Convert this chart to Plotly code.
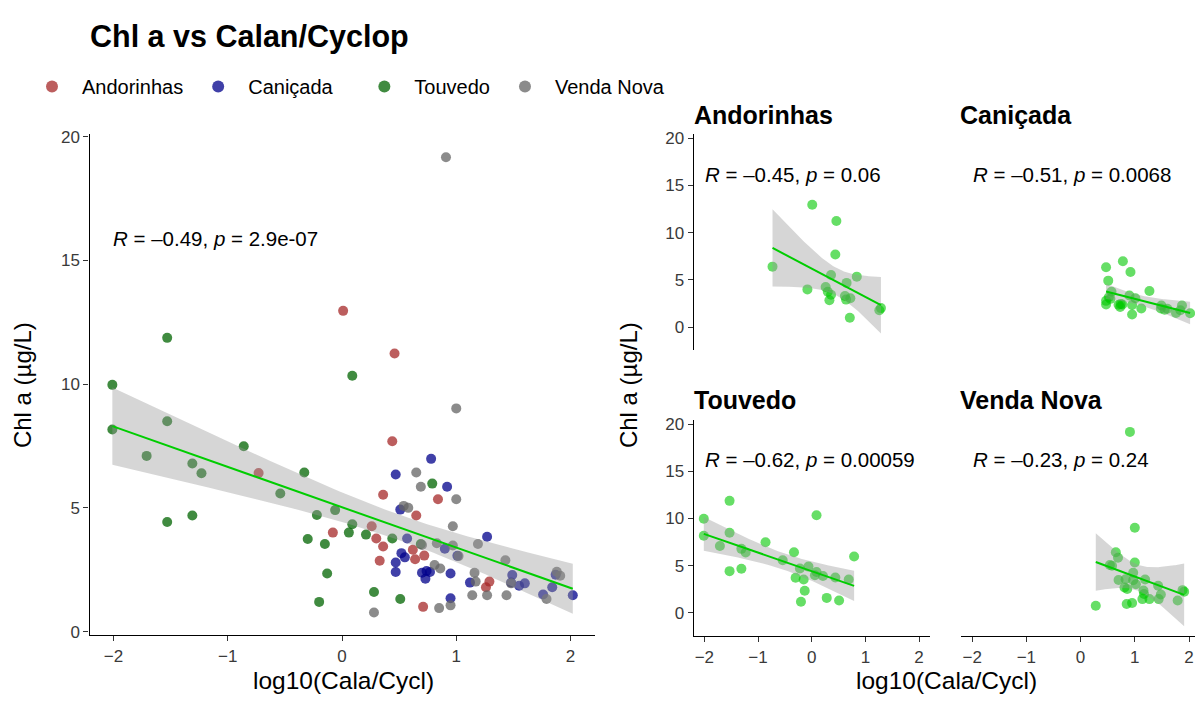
import numpy as np
import plotly.graph_objects as go

# ---------------- data: log10(Calanoid/Cyclopoid) vs Chl a ----------------
sites = ["Andorinhas", "Caniçada", "Touvedo", "Venda Nova"]

andorinhas_x = [-0.73, -0.08, 0.01, 0.26, 0.30, 0.33, 0.36, 0.36, 0.44, 0.46,
                0.62, 0.64, 0.65, 0.71, 0.72, 0.84, 1.26, 1.29]
andorinhas_y = [6.41, 4.00, 12.96, 4.26, 3.76, 2.86, 5.53, 3.44, 7.69, 11.24,
                3.31, 2.92, 4.69, 1.00, 3.07, 5.35, 1.79, 2.02]

canicada_x = [0.47, 0.78, 0.92, 0.51, 1.27, 0.57, 0.90, 1.01, 0.52, 0.47,
              0.47, 0.70, 0.77, 0.73, 0.95, 1.12, 0.95, 1.49, 1.48, 1.55,
              1.84, 1.76, 2.02, 0.55, 0.74, 1.87, 1.60]
canicada_y = [6.35, 6.98, 5.85, 4.93, 3.83, 3.76, 3.35, 3.06, 3.17, 2.79,
              2.41, 2.38, 2.41, 2.14, 2.35, 1.98, 1.35, 2.29, 1.98, 1.85,
              1.79, 1.50, 1.47, 3.00, 2.45, 2.30, 1.95]

touvedo_x = [-2.01, -2.01, -1.53, -1.53, -1.53, -1.71, -1.31, -1.23, -1.31, -0.86,
             -0.54, -0.33, 0.09, -0.22, -0.30, -0.15, -0.06, -0.13, -0.20, 0.06,
             0.21, 0.09, 0.28, 0.44, 0.51, 0.69, 0.79]
touvedo_y = [9.97, 8.17, 11.87, 8.50, 4.43, 7.10, 6.79, 6.40, 4.69, 7.49,
             5.58, 6.43, 10.34, 4.71, 3.74, 3.54, 4.91, 2.35, 1.20, 4.00,
             3.92, 4.34, 1.60, 3.76, 1.32, 3.54, 5.98]

vendanova_x = [0.91, 1.00, 0.65, 0.69, 1.00, 0.54, 0.58, 0.97, 1.19, 0.83,
               0.97, 0.81, 0.86, 1.16, 1.17, 1.14, 1.27, 1.44, 1.43, 1.88,
               1.91, 1.79, 0.95, 0.85, 0.28, 1.02, 1.48, 0.70]
vendanova_y = [19.17, 9.02, 6.43, 5.85, 5.35, 5.08, 5.00, 4.26, 3.54, 3.57,
               3.48, 2.69, 2.55, 2.38, 2.02, 1.47, 1.47, 1.47, 2.88, 2.42,
               2.26, 1.32, 1.06, 0.95, 0.77, 3.05, 1.95, 3.50]

site_x = [andorinhas_x, canicada_x, touvedo_x, vendanova_x]
site_y = [andorinhas_y, canicada_y, touvedo_y, vendanova_y]

all_label = "<i>R</i> = –0.49, <i>p</i> = 2.9e-07"
site_labels = ["<i>R</i> = –0.45, <i>p</i> = 0.06",
               "<i>R</i> = –0.51, <i>p</i> = 0.0068",
               "<i>R</i> = –0.62, <i>p</i> = 0.00059",
               "<i>R</i> = –0.23, <i>p</i> = 0.24"]

x_ticks = [-2, -1, 0, 1, 2]
y_ticks = [0, 5, 10, 15, 20]

# ---------------- styling ----------------
W, H = 1195, 727
FONT = "Liberation Sans, Arial, sans-serif"
site_colors = ["rgba(165,40,40,0.75)", "rgba(0,0,139,0.75)",
               "rgba(0,100,0,0.75)", "rgba(100,100,100,0.75)"]
facet_point = "rgba(0,200,0,0.6)"
fit_line = "#00cd00"
band_fill = "rgba(153,153,153,0.4)"
# legend entries: a little extra room after the second key
legend_pad = ["", "\u00a0\u00a0\u00a0", "", ""]


def fx(p):
    return p / W


def fy(p):
    return 1 - p / H


def t_975(df):
    """Student t 97.5% quantile (Cornish-Fisher expansion)."""
    z = 1.959963985
    g1 = (z**3 + z) / 4
    g2 = (5 * z**5 + 16 * z**3 + 3 * z) / 96
    g3 = (3 * z**7 + 19 * z**5 + 17 * z**3 - 15 * z) / 384
    g4 = (79 * z**9 + 776 * z**7 + 1482 * z**5 - 1920 * z**3 - 945 * z) / 92160
    return z + g1 / df + g2 / df**2 + g3 / df**3 + g4 / df**4


def lm_band(x, y, n=80):
    x = np.asarray(x, float)
    y = np.asarray(y, float)
    slope, icpt = np.polyfit(x, y, 1)
    xs = np.linspace(x.min(), x.max(), n)
    fit = icpt + slope * xs
    dof = len(x) - 2
    s = np.sqrt(np.sum((y - (icpt + slope * x)) ** 2) / dof)
    se = s * np.sqrt(1 / len(x) + (xs - x.mean()) ** 2 / np.sum((x - x.mean()) ** 2))
    half = t_975(dof) * se
    return xs, fit, fit - half, fit + half


def add_smooth(fig, x, y, xa, ya):
    xs, fit, lo, hi = lm_band(x, y)
    fig.add_trace(go.Scatter(
        x=np.concatenate([xs, xs[::-1]]), y=np.concatenate([hi, lo[::-1]]),
        fill="toself", fillcolor=band_fill, line=dict(width=0), mode="lines",
        hoverinfo="skip", showlegend=False, xaxis=xa, yaxis=ya))
    fig.add_trace(go.Scatter(
        x=xs, y=fit, mode="lines", line=dict(color=fit_line, width=2),
        hoverinfo="skip", showlegend=False, xaxis=xa, yaxis=ya))


fig = go.Figure()

# ---- pooled panel ----
for name, pad, xv, yv, col in zip(sites, legend_pad, site_x, site_y, site_colors):
    fig.add_trace(go.Scatter(
        x=xv, y=yv, mode="markers", name=name + pad,
        marker=dict(color=col, size=10, line=dict(width=0)),
        xaxis="x", yaxis="y"))
add_smooth(fig, sum(site_x, []), sum(site_y, []), "x", "y")

# ---- faceted panels ----
for i, (xv, yv) in enumerate(zip(site_x, site_y)):
    xa, ya = f"x{i + 2}", f"y{i + 2}"
    fig.add_trace(go.Scatter(
        x=xv, y=yv, mode="markers", showlegend=False,
        marker=dict(color=facet_point, size=10, line=dict(width=0)),
        xaxis=xa, yaxis=ya))
    add_smooth(fig, xv, yv, xa, ya)

axis_common = dict(showgrid=False, zeroline=False, showline=True, linecolor="black",
                   linewidth=1.2, ticks="outside", ticklen=5, tickcolor="#333333",
                   tickwidth=1.1, tickfont=dict(family=FONT, size=17, color="#3a3a3a"))

# pixel geometry of the panels
left_x0, left_x1 = 89.5, 594.5
left_y0, left_y1 = 129.5, 639.5
colL = (693.6, 929.8)
colR = (961.3, 1195.0)
rowT = (129.8, 349.6)
rowB = (420.8, 640.6)
facet_yrange = [-2.45, 20.4]

layout_axes = dict(
    xaxis=dict(domain=[fx(left_x0), fx(left_x1)], range=[-2.21, 2.21],
               tickvals=x_ticks, anchor="y", **axis_common),
    yaxis=dict(domain=[fy(left_y1), fy(left_y0)], range=[-0.14, 20.1],
               tickvals=y_ticks, anchor="x", **axis_common),
    # Andorinhas (top-left)
    xaxis2=dict(domain=[fx(colL[0]), fx(colL[1])], range=[-2.2, 2.2],
                anchor="y2", visible=False),
    yaxis2=dict(domain=[fy(rowT[1]), fy(rowT[0])], range=facet_yrange,
                tickvals=y_ticks, anchor="x2", **axis_common),
    # Caniçada (top-right)
    xaxis3=dict(domain=[fx(colR[0]), fx(colR[1])], range=[-2.2, 2.11],
                anchor="y3", visible=False),
    yaxis3=dict(domain=[fy(rowT[1]), fy(rowT[0])], range=facet_yrange,
                anchor="x3", visible=False),
    # Touvedo (bottom-left)
    xaxis4=dict(domain=[fx(colL[0]), fx(colL[1])], range=[-2.2, 2.2],
                tickvals=x_ticks, anchor="y4", **axis_common),
    yaxis4=dict(domain=[fy(rowB[1]), fy(rowB[0])], range=facet_yrange,
                tickvals=y_ticks, anchor="x4", **axis_common),
    # Venda Nova (bottom-right)
    xaxis5=dict(domain=[fx(colR[0]), fx(colR[1])], range=[-2.2, 2.11],
                tickvals=x_ticks, anchor="y5", **axis_common),
    yaxis5=dict(domain=[fy(rowB[1]), fy(rowB[0])], range=facet_yrange,
                anchor="x5", visible=False),
)

annotations = []


def paper_text(text, x, y, size, bold=False, xanchor="center", angle=0):
    annotations.append(dict(
        text=f"<b>{text}</b>" if bold else text, x=fx(x), y=fy(y),
        xref="paper", yref="paper", xanchor=xanchor, yanchor="middle",
        showarrow=False, textangle=angle,
        font=dict(family=FONT, size=size, color="black")))


paper_text("Chl a vs Calan/Cyclop", 88, 30, 30.5, bold=True, xanchor="left")
paper_text("Chl a (µg/L)", 22, 385, 24, angle=-90)
paper_text("Chl a (µg/L)", 628, 385, 24, angle=-90)
paper_text("log10(Cala/Cycl)", 343, 686, 24.5)
paper_text("log10(Cala/Cycl)", 946, 686, 24.5)
for name, (x, y) in zip(sites, [(692, 110), (958, 110), (692, 400), (958, 400)]):
    paper_text(name, x, y, 25, bold=True, xanchor="left")

# correlation labels in data coordinates
annotations.append(dict(text=all_label, x=-2.02, y=15.9, xref="x", yref="y",
                        xanchor="left", yanchor="middle", showarrow=False,
                        font=dict(family=FONT, size=20.5, color="black")))
for i, lab in enumerate(site_labels):
    annotations.append(dict(text=lab, x=-2.02, y=16.2, xref=f"x{i + 2}", yref=f"y{i + 2}",
                            xanchor="left", yanchor="middle", showarrow=False,
                            font=dict(family=FONT, size=20.5, color="black")))

fig.update_layout(
    width=W, height=H, margin=dict(l=0, r=0, t=0, b=0),
    paper_bgcolor="white", plot_bgcolor="white",
    font=dict(family=FONT, color="black"),
    showlegend=True,
    legend=dict(orientation="h", x=fx(22), y=fy(81), xanchor="left", yanchor="middle",
                font=dict(family=FONT, size=20, color="black"),
                itemwidth=50, itemsizing="constant", bgcolor="rgba(0,0,0,0)"),
    annotations=annotations,
    **layout_axes,
)

fig.write_html("out.html")
